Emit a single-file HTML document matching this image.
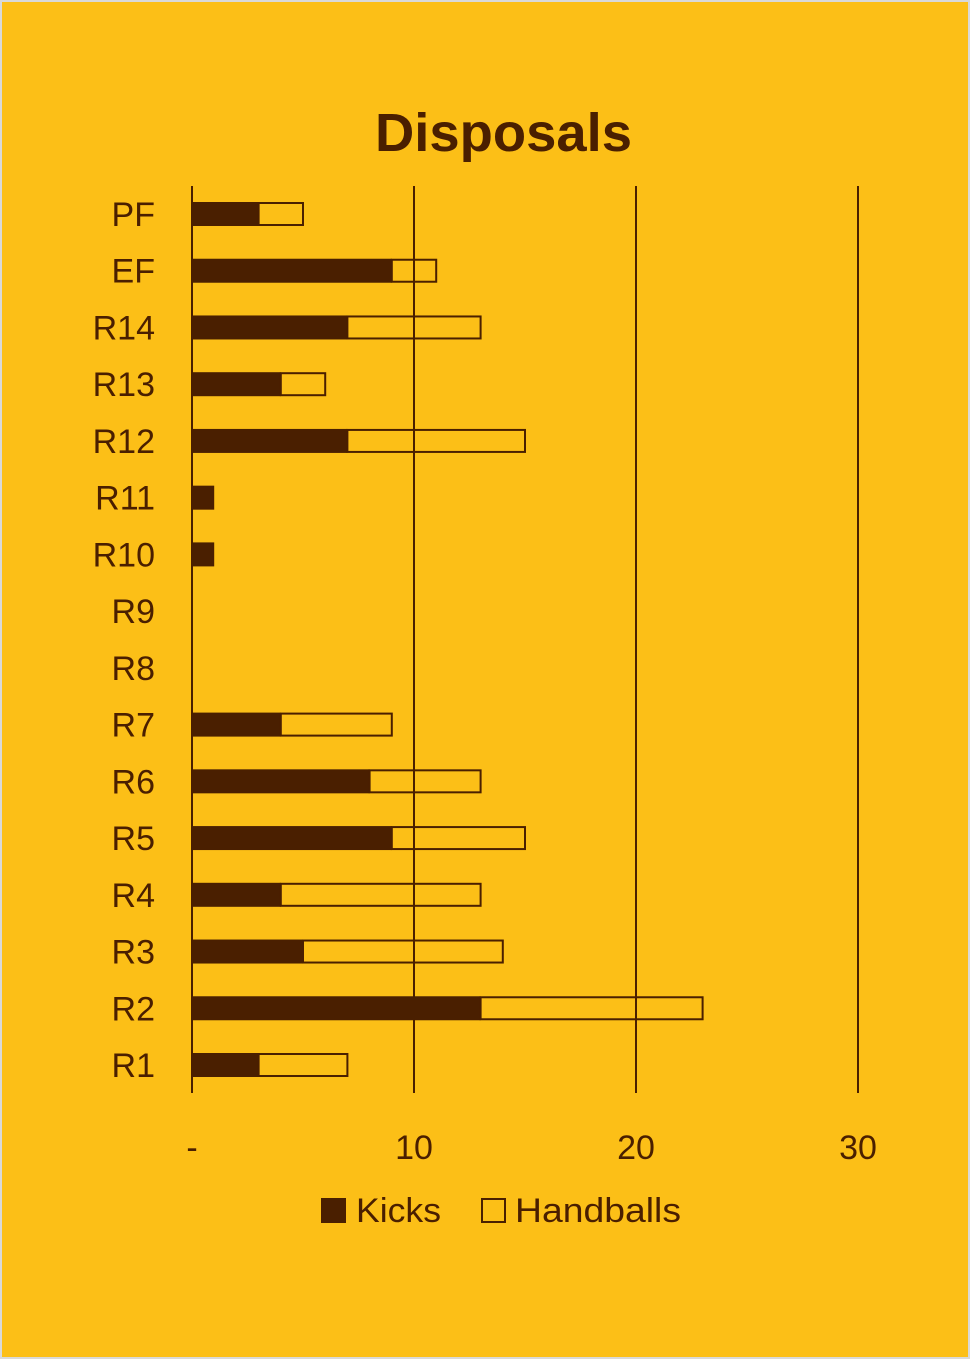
<!DOCTYPE html>
<html><head><meta charset="utf-8"><style>
html,body{margin:0;padding:0;background:#fff}
svg{display:block}
text{font-family:"Liberation Sans",sans-serif;fill:#4a1f00}
</style></head><body>
<svg id="chart" width="970" height="1359" viewBox="0 0 970 1359">
<rect x="1" y="1" width="968" height="1357" fill="#fcbf17" stroke="#d9d9d9" stroke-width="2"/>
<text x="375" y="151" textLength="257" lengthAdjust="spacingAndGlyphs" font-size="54" font-weight="bold">Disposals</text>
<g id="grid"></g><g id="bars"></g><g id="labels"></g>
<g>
<rect x="321" y="1198" width="25" height="25" fill="#4a1f00"/>
<text x="356" y="1222" font-size="34" textLength="85" lengthAdjust="spacingAndGlyphs">Kicks</text>
<rect x="482" y="1199" width="23" height="23" fill="none" stroke="#4a1f00" stroke-width="2"/>
<text x="515" y="1222" font-size="34" textLength="166" lengthAdjust="spacingAndGlyphs">Handballs</text>
</g>
</svg>
<script>
const categories = ["PF","EF","R14","R13","R12","R11","R10","R9","R8","R7","R6","R5","R4","R3","R2","R1"];
const kicks = [3,9,7,4,7,1,1,0,0,4,8,9,4,5,13,3];
const handballs = [2,2,6,2,8,0,0,0,0,5,5,6,9,9,10,4];
const tickValues = [0,10,20,30];
const tickLabels = ["-","10","20","30"];
const NS="http://www.w3.org/2000/svg";
const x0=192, pxPer=22.2, top0=214, step=(1065-214)/15, bh=24;
const xs=v=>x0+v*pxPer, ys=i=>top0+i*step;
function mk(tag,attrs,parent){const e=document.createElementNS(NS,tag);for(const k in attrs)e.setAttribute(k,attrs[k]);document.getElementById(parent).appendChild(e);return e;}
tickValues.forEach((v,i)=>{
  const l=mk('line',{x1:xs(v),x2:xs(v),y1:186,y2:1093,stroke:'#4a1f00','stroke-width':2},'grid');
  
  
  const t=mk('text',{x:xs(v),y:1159,'text-anchor':'middle','font-size':34},'labels');
  t.textContent=tickLabels[i];
  
  
});
categories.forEach((c,i)=>{
  const y=ys(i);
  const t=mk('text',{x:155,y:y+12,'text-anchor':'end','font-size':34},'labels');
  t.textContent=c;
  
  
  if(kicks[i]>0){
    const r=mk('rect',{x:xs(0),y:y-bh/2,width:kicks[i]*pxPer,height:bh,fill:'#4a1f00'},'bars');
    
    
  }
  if(handballs[i]>0){
    const r=mk('rect',{x:xs(kicks[i]),y:y-bh/2+1,width:handballs[i]*pxPer,height:bh-2,fill:'none',stroke:'#4a1f00','stroke-width':2},'bars');
    
    
  }
});
</script>
</body></html>
